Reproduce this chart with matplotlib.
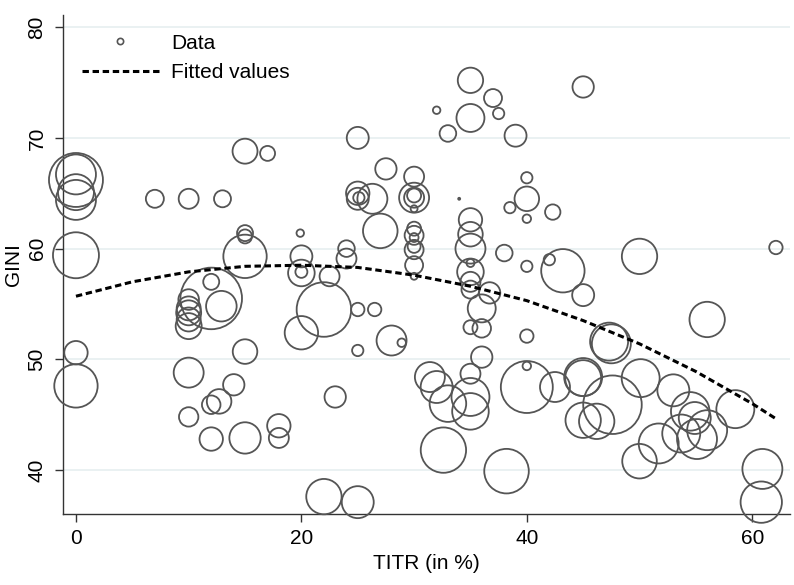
import numpy as np
import matplotlib
matplotlib.use("Agg")
import matplotlib.pyplot as plt
from matplotlib.lines import Line2D

plt.rcParams['font.family'] = ['Liberation Sans', 'DejaVu Sans']

# TITR (top income tax rate, %), GINI and population weight per observation
titr = [0, 0, 0, 0, 0, 0, 0, 7.0, 10.0, 13.0,
        15.0, 17.0, 15.0, 15.0, 15.0, 19.9, 12.0, 12.0, 12.9, 10.0,
        10.0, 10.0, 10.0, 10.0, 15.0, 10.0, 14.0, 12.7, 12.0, 10.0,
        12.0, 15.0, 18.0, 18.0, 35.0, 37.0, 37.5, 32.0, 35.0, 33.0,
        39.0, 25.0, 27.5, 30.0, 40.0, 40.0, 38.5, 40.0, 42.3, 25.0,
        25.0, 25.1, 26.3, 27.0, 20.0, 24.0, 24.0, 30.0, 30.0, 30.0,
        30.0, 30.0, 30.0, 30.0, 30.0, 30.0, 30.0, 30.0, 20.0, 20.0,
        22.5, 22.0, 20.0, 25.0, 26.5, 25.0, 28.0, 28.9, 23.0, 22.0,
        25.0, 31.4, 32.0, 33.0, 35.0, 36.0, 35.0, 35.0, 32.6, 38.2,
        40.0, 40.0, 40.0, 40.0, 38.0, 35.0, 35.0, 35.0, 35.0, 35.0,
        35.0, 35.0, 36.7, 36.0, 35.0, 36.0, 34.0, 45.0, 62.1, 50.0,
        43.2, 42.0, 45.0, 47.3, 47.5, 56.0, 42.5, 45.0, 45.0, 47.6,
        50.1, 53.0, 45.0, 46.2, 50.0, 51.7, 54.5, 54.9, 53.7, 55.1,
        56.0, 58.5, 60.9, 60.8]

gini = [66.2, 66.7, 65.1, 64.4, 59.4, 50.6, 47.6, 64.5, 64.5, 64.5,
        68.8, 68.6, 61.4, 61.1, 59.3, 61.4, 55.5, 57.0, 54.8, 55.4,
        54.6, 54.2, 53.6, 53.0, 50.7, 48.8, 47.7, 46.2, 45.9, 44.8,
        42.8, 42.9, 44.0, 42.9, 75.2, 73.6, 72.2, 72.5, 71.8, 70.4,
        70.2, 70.0, 67.2, 66.5, 66.4, 64.5, 63.7, 62.7, 63.3, 65.0,
        64.5, 64.6, 64.5, 61.6, 59.3, 60.0, 59.1, 64.6, 64.6, 64.8,
        63.6, 61.8, 61.2, 61.0, 59.9, 60.2, 58.5, 57.5, 57.8, 57.9,
        57.5, 54.5, 52.4, 54.5, 54.5, 50.8, 51.7, 51.5, 46.6, 37.6,
        37.1, 48.4, 47.5, 46.0, 48.7, 50.2, 46.6, 45.3, 41.8, 39.9,
        47.5, 49.4, 52.1, 58.4, 59.6, 62.6, 61.3, 60.0, 57.9, 57.0,
        56.3, 58.7, 56.0, 54.6, 52.9, 52.8, 64.5, 74.6, 60.1, 59.3,
        58.0, 59.0, 55.8, 51.6, 51.4, 53.6, 47.5, 48.4, 48.3, 45.9,
        48.3, 47.2, 44.5, 44.4, 40.8, 42.4, 45.3, 44.7, 43.3, 42.8,
        43.6, 45.5, 40.1, 37.1]

pop = [72.9, 40.0, 32.4, 40.0, 52.9, 13.7, 47.1, 8.1, 10.0, 7.2,
       15.6, 5.6, 6.4, 4.9, 47.1, 1.4, 94.9, 6.4, 23.4, 10.6,
       14.4, 15.6, 14.4, 16.9, 15.1, 22.5, 11.4, 15.1, 8.6, 9.4,
       13.7, 24.6, 13.7, 10.0, 16.1, 8.1, 3.2, 1.4, 19.6, 6.9,
       12.1, 12.1, 11.4, 10.0, 3.2, 15.1, 3.2, 1.8, 5.9, 13.7,
       12.1, 3.2, 22.5, 29.9, 12.1, 6.9, 10.0, 22.5, 10.0, 4.9,
       1.2, 4.9, 9.0, 2.0, 9.0, 4.2, 8.1, 1.2, 17.7, 3.6,
       10.0, 74.5, 27.9, 4.5, 4.5, 3.2, 22.5, 1.8, 11.4, 31.3,
       25.6, 22.5, 25.6, 33.5, 10.0, 11.4, 36.1, 33.5, 51.5, 49.7,
       67.6, 1.8, 4.5, 3.2, 6.9, 13.7, 15.1, 22.5, 17.7, 10.0,
       8.1, 1.6, 11.4, 19.6, 4.9, 8.6, 0.1, 11.4, 4.5, 31.3,
       47.1, 3.2, 12.1, 36.1, 38.0, 31.3, 22.5, 36.1, 32.4, 85.8,
       36.1, 25.6, 31.3, 31.3, 29.9, 40.0, 37.2, 25.6, 36.1, 40.0,
       40.0, 36.1, 40.0, 42.8]

# quadratic fitted values along TITR
fit_x = [0, 5, 10, 15, 20, 25, 30, 35, 40, 45, 50, 55, 60, 62]
fit_y = [55.7, 57.0, 57.9, 58.4, 58.5, 58.3, 57.6, 56.6, 55.3, 53.5, 51.4, 48.9, 46.0, 44.7]

circ_col = '#555555'
fs = 15

fig = plt.figure(figsize=(7.94, 5.85), dpi=100)
ax = fig.add_axes([63 / 794, 1 - 514 / 585, 727 / 794, 499 / 585])

ax.scatter(titr, gini, s=np.array(pop) * 20.7, facecolors='none',
           edgecolors=circ_col, linewidths=1.3, clip_on=False, zorder=3)
ax.plot(fit_x, fit_y, color='black', lw=2.2, dashes=(2.1, 1.2), zorder=4)

ax.set_xlim(-1.15, 63.35)
ax.set_ylim(36.03, 81.1)
ax.set_xticks([0, 20, 40, 60])
ax.set_yticks([40, 50, 60, 70, 80])

ax.yaxis.grid(True, color='#E8F0F1', lw=1.3, zorder=0)
ax.set_axisbelow(True)
for side in ['top', 'right']:
    ax.spines[side].set_visible(False)
for side in ['left', 'bottom']:
    ax.spines[side].set_linewidth(1.0)
    ax.spines[side].set_color('#333333')

ax.tick_params(direction='out', length=5.8, width=1.0, color='#333333',
               labelsize=fs)
ax.tick_params(axis='y', pad=6.0)
ax.tick_params(axis='x', pad=5)
plt.setp(ax.get_yticklabels(), rotation=90, va='center')

ax.set_xlabel('TITR (in %)', fontsize=fs, labelpad=4)
ax.set_ylabel('GINI', fontsize=fs, labelpad=3)

handles = [
    Line2D([], [], ls='none', marker='o', markersize=4.5, mfc='none',
           mec=circ_col, mew=1.2),
    Line2D([], [], color='black', lw=2.2, dashes=(2.1, 1.2)),
]
ax.legend(handles, ['Data', 'Fitted values'], loc='upper left',
          bbox_to_anchor=(0.0, 1.0), frameon=False, fontsize=fs,
          handlelength=3.7, handletextpad=0.6, labelspacing=0.5,
          borderaxespad=0.5)

fig.savefig('out.png', dpi=100)
